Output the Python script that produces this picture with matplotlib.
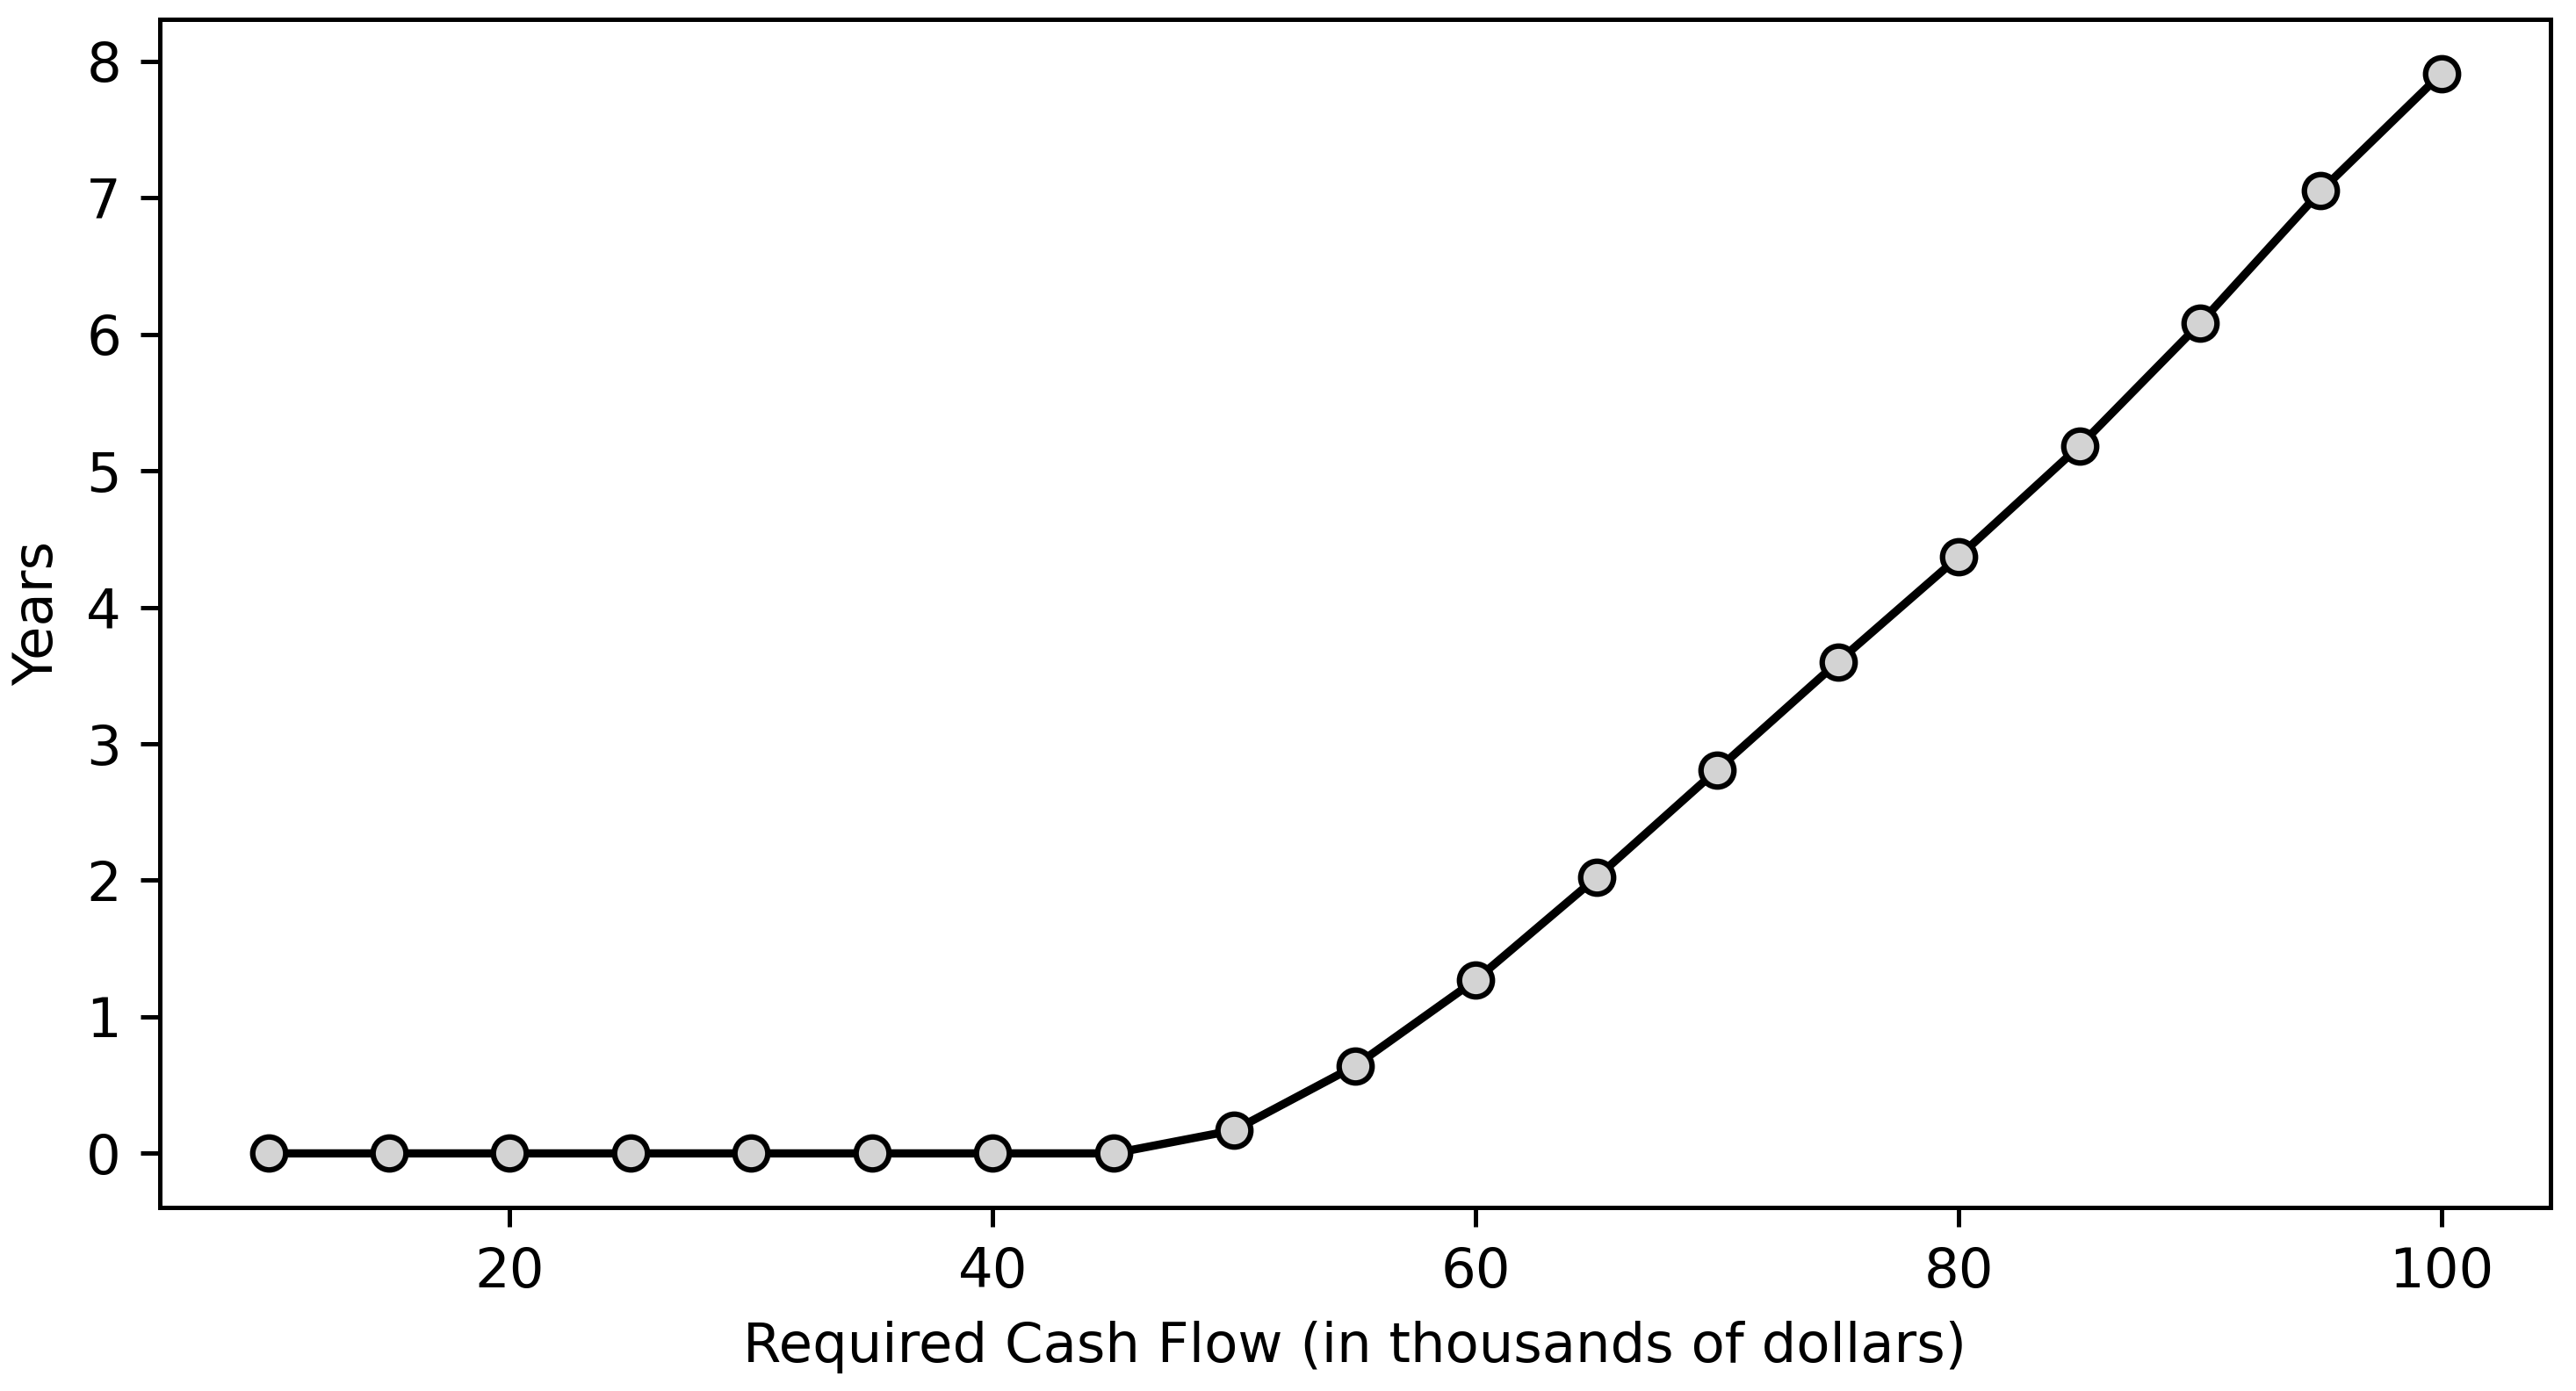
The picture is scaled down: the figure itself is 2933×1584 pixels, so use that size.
import matplotlib
matplotlib.use("Agg")
import matplotlib.pyplot as plt

# required cash flow (thousands of dollars) and years
cash_flow = [10, 15, 20, 25, 30, 35, 40, 45, 50, 55, 60, 65, 70, 75, 80, 85, 90, 95, 100]
years = [0, 0, 0, 0, 0, 0, 0, 0, 0.17, 0.64, 1.27, 2.02, 2.81, 3.60, 4.37, 5.18, 6.08, 7.05, 7.91]

fig, ax = plt.subplots(figsize=(2933 / 450, 1584 / 450), dpi=450)
ax.plot(cash_flow, years, color="black", marker="o",
        markerfacecolor="lightgray", markeredgecolor="black")
ax.set_xlabel("Required Cash Flow (in thousands of dollars)")
ax.set_ylabel("Years")
fig.subplots_adjust(left=0.062, right=0.990, top=0.986, bottom=0.132)
fig.savefig("out.png", dpi=450)
